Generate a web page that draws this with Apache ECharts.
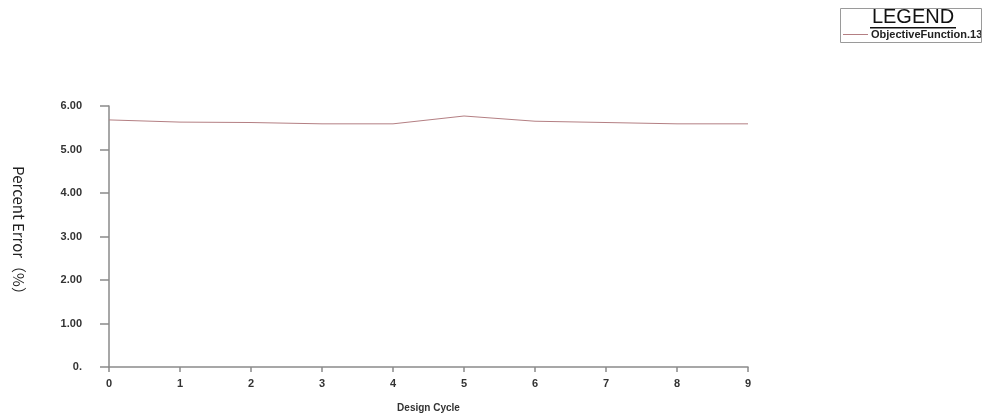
<!DOCTYPE html>
<html>
<head>
<meta charset="utf-8">
<script src="https://cdn.jsdelivr.net/npm/echarts@6/dist/echarts.min.js"></script>
<style>
html,body{margin:0;padding:0;background:#fff;}
#chart{width:983px;height:415px;}
</style>
</head>
<body>
<div id="chart"></div>
<script>
var categories = ['0','1','2','3','4','5','6','7','8','9'];
var objectiveValues = [5.68, 5.63, 5.62, 5.59, 5.59, 5.77, 5.65, 5.62, 5.59, 5.59];
var yTickLabels = ['0.', '1.00', '2.00', '3.00', '4.00', '5.00', '6.00'];
var seriesName = 'ObjectiveFunction.13';

var chart = echarts.init(document.getElementById('chart'));
var lineColor = '#b47f83';
var axisColor = '#8a8a8a';
var tickFont = {fontFamily: '"Liberation Sans"', fontSize: 11, fontWeight: 'bold', color: '#333'};

chart.setOption({
  animation: false,
  backgroundColor: '#fff',
  grid: {left: 109, right: 235, top: 106, bottom: 48, containLabel: false, outerBoundsMode: 'none'},
  legend: {
    show: true,
    data: [seriesName],
    left: 843,
    top: 29,
    itemWidth: 25,
    itemHeight: 1,
    itemGap: 0,
    icon: 'rect',
    padding: 0,
    textStyle: {fontFamily: '"Liberation Sans Narrow", "Liberation Sans"', fontSize: 11, fontWeight: 'bold', color: '#222', padding: [0,0,0,-2]}
  },
  graphic: [
    {type: 'rect', shape: {x: 840.5, y: 8.5, width: 141, height: 34}, style: {fill: 'none', stroke: '#9a9a9a', lineWidth: 1}, z: 10},
    {type: 'text', x: 913, y: 7, style: {text: 'LEGEND', font: '20px "Liberation Sans"', fill: '#111', align: 'center'}, z: 10},
    {type: 'rect', shape: {x: 870, y: 27, width: 86, height: 1.5}, style: {fill: '#111'}, z: 10}
  ],
  xAxis: {
    type: 'category',
    data: categories,
    boundaryGap: false,
    name: 'Design Cycle',
    nameLocation: 'middle',
    nameGap: 36,
    nameTextStyle: {fontFamily: '"Liberation Sans"', fontSize: 10, fontWeight: 'bold', color: '#333'},
    axisLine: {lineStyle: {color: axisColor, width: 1.5}},
    axisTick: {show: true, length: 5, lineStyle: {color: axisColor, width: 1.5}},
    axisLabel: Object.assign({margin: 11}, tickFont),
    splitLine: {show: false}
  },
  yAxis: {
    type: 'value',
    min: 0,
    max: 6,
    interval: 1,
    name: 'Percent Error（%）',
    nameLocation: 'middle',
    nameRotate: -90,
    nameGap: 83,
    nameTextStyle: {fontFamily: '"Noto Sans CJK SC"', fontSize: 15, color: '#222', padding: [0, 5, 0, 0]},
    axisLine: {show: true, lineStyle: {color: axisColor, width: 1.5}},
    axisTick: {show: true, length: 9, lineStyle: {color: axisColor, width: 1.5}},
    axisLabel: Object.assign({margin: 27, formatter: function (v) { return yTickLabels[Math.round(v)]; }}, tickFont),
    splitLine: {show: false}
  },
  series: [{
    name: seriesName,
    type: 'line',
    data: objectiveValues,
    symbol: 'none',
    lineStyle: {color: lineColor, width: 1},
    itemStyle: {color: lineColor}
  }]
});
</script>
</body>
</html>
